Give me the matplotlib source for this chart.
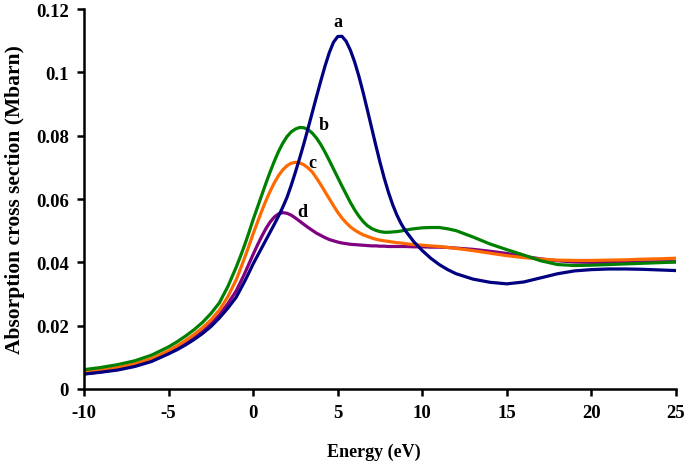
import matplotlib
matplotlib.use("Agg")
import matplotlib.pyplot as plt

plt.rcParams['font.family'] = ['Liberation Serif', 'DejaVu Serif']
plt.rcParams['font.weight'] = 'bold'
plt.rcParams['axes.unicode_minus'] = False

# energy grid (eV), finer around the peaks
energy = [-10, -9, -8, -7, -6, -5, -4.5, -4, -3.5, -3, -2.5, -2, -1.5,
          -1, -0.75, -0.5, -0.25, 0, 0.25, 0.5, 0.75, 1, 1.25, 1.5, 1.75,
          2, 2.25, 2.5, 2.75, 3, 3.25, 3.5, 3.75, 4, 4.25, 4.5, 4.75,
          5, 5.25, 5.5, 5.75, 6, 6.25, 6.5, 6.75, 7, 7.25, 7.5, 7.75,
          8, 8.25, 8.5, 8.75, 9,
          9.5, 10, 10.5, 11, 11.5, 12,
          13, 14, 15, 16, 17, 18, 19, 20, 21, 22, 23, 24, 25]

# absorption cross section (Mbarn)
sigma_a = [0.0047, 0.0053, 0.0060, 0.0071, 0.0087, 0.0111, 0.0124, 0.0139,
           0.0156, 0.0175, 0.0197, 0.0224, 0.0255,
           0.0290, 0.0315, 0.0340, 0.0367, 0.0395, 0.0420, 0.0445, 0.0470,
           0.0495, 0.0520, 0.0546, 0.0574, 0.0605, 0.0643, 0.0685, 0.0729,
           0.0775, 0.0824, 0.0874, 0.0924, 0.0973, 0.1020, 0.1062, 0.1095,
           0.1113, 0.1114, 0.1098, 0.1070, 0.1033, 0.0988, 0.0937, 0.0882,
           0.0826, 0.0770, 0.0716, 0.0666, 0.0621, 0.0582, 0.0549, 0.0522,
           0.0500,
           0.0465, 0.0437, 0.0413, 0.0393, 0.0377, 0.0364,
           0.0347, 0.0337, 0.0332, 0.0338, 0.0351, 0.0364, 0.0373, 0.0377,
           0.0379, 0.0379, 0.0378, 0.0376, 0.0374]

sigma_b = [0.0061, 0.0068, 0.0077, 0.0089, 0.0107, 0.0133, 0.0149, 0.0167,
           0.0187, 0.0210, 0.0238, 0.0272, 0.0323,
           0.0385, 0.0419, 0.0455, 0.0494, 0.0535, 0.0573, 0.0611, 0.0649,
           0.0685, 0.0719, 0.0750, 0.0776, 0.0797, 0.0812, 0.0821, 0.0826,
           0.0825, 0.0819, 0.0808, 0.0792, 0.0772, 0.0748, 0.0722, 0.0695,
           0.0668, 0.0641, 0.0615, 0.0589, 0.0566, 0.0546, 0.0529, 0.0516,
           0.0507, 0.0501, 0.0497, 0.0495, 0.0495, 0.0496, 0.0497, 0.0499,
           0.0502,
           0.0506, 0.0509, 0.0510, 0.0510, 0.0506, 0.0500,
           0.0480, 0.0458, 0.0440, 0.0423, 0.0405, 0.0393, 0.0390, 0.0391,
           0.0393, 0.0395, 0.0397, 0.0399, 0.0401]

sigma_c = [0.0054, 0.0060, 0.0068, 0.0080, 0.0096, 0.0121, 0.0136, 0.0153,
           0.0172, 0.0193, 0.0218, 0.0249, 0.0291,
           0.0345, 0.0379, 0.0415, 0.0452, 0.0490, 0.0526, 0.0561, 0.0594,
           0.0624, 0.0651, 0.0674, 0.0692, 0.0705, 0.0713, 0.0716, 0.0714,
           0.0708, 0.0698, 0.0685, 0.0666, 0.0645, 0.0623, 0.0601, 0.0579,
           0.0558, 0.0540, 0.0525, 0.0512, 0.0502, 0.0494, 0.0487, 0.0482,
           0.0477, 0.0473, 0.0470, 0.0468, 0.0466, 0.0464, 0.0462, 0.0461,
           0.0459,
           0.0456, 0.0454, 0.0452, 0.0450, 0.0447, 0.0444,
           0.0437, 0.0429, 0.0421, 0.0415, 0.0410, 0.0407, 0.0406, 0.0406,
           0.0407, 0.0408, 0.0410, 0.0411, 0.0413]

sigma_d = [0.0048, 0.0054, 0.0062, 0.0073, 0.0089, 0.0113, 0.0127, 0.0143,
           0.0161, 0.0181, 0.0205, 0.0234, 0.0269,
           0.0310, 0.0337, 0.0365, 0.0395, 0.0425, 0.0454, 0.0481, 0.0506,
           0.0527, 0.0543, 0.0553, 0.0557, 0.0555, 0.0549, 0.0540, 0.0530,
           0.0520, 0.0510, 0.0501, 0.0492, 0.0485, 0.0478, 0.0472, 0.0468,
           0.0464, 0.0461, 0.0459, 0.0457, 0.0456, 0.0455, 0.0454, 0.0453,
           0.0452, 0.0452, 0.0451, 0.0451, 0.0450, 0.0450, 0.0450, 0.0450,
           0.0450,
           0.0449, 0.0449, 0.0448, 0.0448, 0.0447, 0.0445,
           0.0441, 0.0435, 0.0428, 0.0419, 0.0411, 0.0405, 0.0401, 0.0400,
           0.0400, 0.0401, 0.0401, 0.0402, 0.0402]

labels = ['a', 'b', 'c', 'd']
label_x = [5.0, 4.15, 3.5, 2.9]
label_y = [0.1162, 0.0835, 0.0715, 0.0560]

fig = plt.figure(figsize=(6.85, 4.64), dpi=100)
ax = fig.add_axes([0.1226, 0.1595, 0.8643, 0.8189])

line_kw = dict(lw=2.3, solid_joinstyle='round', solid_capstyle='round')
ax.plot(energy, sigma_d, color='#800080', **line_kw)
ax.plot(energy, sigma_c, color='#FF6A00', **line_kw)
ax.plot(energy, sigma_b, color='#008000', **line_kw)
ax.plot(energy, sigma_a, color='#000080', **line_kw)

for lab, lx, ly in zip(labels, label_x, label_y):
    ax.text(lx, ly, lab, fontsize=13, fontweight='bold', ha='center', va='center')

ax.set_xlim(-10, 25)
ax.set_ylim(0, 0.12)
ax.set_xticks([-10, -5, 0, 5, 10, 15, 20, 25])
ax.set_yticks([0, 0.02, 0.04, 0.06, 0.08, 0.1, 0.12])
ax.set_yticklabels(['0', '0.02', '0.04', '0.06', '0.08', '0.1', '0.12'])

for s in ['top', 'right']:
    ax.spines[s].set_visible(False)
for s in ['left', 'bottom']:
    ax.spines[s].set_linewidth(1.8)
ax.tick_params(direction='out', length=5, width=1.8, labelsize=13.5, pad=6)

ax.set_xlabel('Energy (eV)', fontsize=13, fontweight='bold')
ax.set_ylabel('Absorption cross section (Mbarn)', fontsize=15.5, fontweight='bold')
ax.xaxis.set_label_coords(0.49, -0.14)
ax.yaxis.set_label_coords(-0.1, 0.5)

fig.savefig('out.png', dpi=100)
